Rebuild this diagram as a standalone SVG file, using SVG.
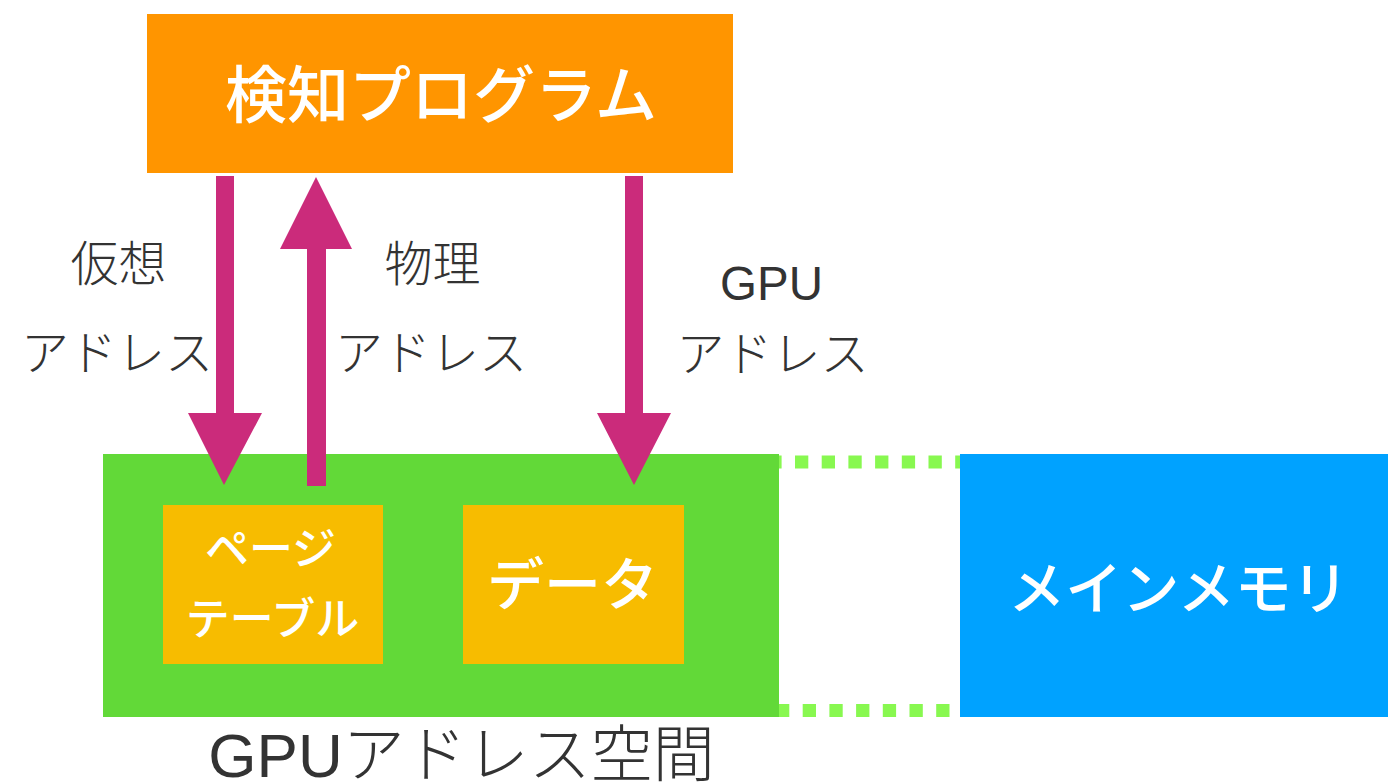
<svg xmlns="http://www.w3.org/2000/svg" width="1388" height="783" viewBox="0 0 1388 783">
  <style>
    .lbl { font-family: "Liberation Sans", "Noto Sans CJK JP", sans-serif; fill: #333333; font-weight: 300; text-anchor: middle; }
    .wt { font-family: "Noto Sans CJK JP", "Noto Sans", sans-serif; fill: #ffffff; font-weight: 500; text-anchor: middle; }
    .arrow { fill: #CB2B7B; }
    .dots { stroke: #88F850; stroke-width: 13; stroke-dasharray: 13.3 13.4; fill: none; }
  </style>
  <rect width="1388" height="783" fill="#ffffff"/>
  <g id="links">
    <line class="dots" x1="768.3" y1="462" x2="960" y2="462"/>
    <line class="dots" x1="776" y1="710.5" x2="960" y2="710.5"/>
  </g>
  <g id="gpu-space">
    <rect x="103" y="454" width="676" height="263" fill="#62D938"/>
    <text class="lbl" x="461.5" y="777" font-size="62">GPUアドレス空間</text>
  </g>
  <g id="main-memory">
    <rect x="960" y="454" width="428" height="263" fill="#00A2FF"/>
    <text class="wt" x="1178.5" y="609" font-size="57">メインメモリ</text>
  </g>
  <g id="page-table">
    <rect x="163" y="505" width="220" height="159" fill="#F7BC00"/>
    <text class="wt" x="270.5" y="565" font-size="44">ページ</text>
    <text class="wt" x="272.5" y="635" font-size="44">テーブル</text>
  </g>
  <g id="data">
    <rect x="463" y="505" width="221" height="159" fill="#F7BC00"/>
    <text class="wt" x="572.5" y="605" font-size="57">データ</text>
  </g>
  <g id="detector">
    <rect x="147" y="14" width="586" height="159" fill="#FF9500"/>
    <text class="wt" x="441" y="118" font-size="62">検知プログラム</text>
  </g>
  <g id="connectors">
    <polygon class="arrow" points="216,176 234,176 234,413 262,413 224,485 188,413 216,413"/>
    <polygon class="arrow" points="307,486 326,486 326,249 352,249 316,177 280,249 307,249"/>
    <polygon class="arrow" points="625,176 643,176 643,413 671,413 634,485 597,413 625,413"/>
  </g>
  <g id="labels">
    <text class="lbl" x="118.5" y="281" font-size="48">仮想</text>
    <text class="lbl" x="117" y="370" font-size="48">アドレス</text>
    <text class="lbl" x="432.5" y="281" font-size="48">物理</text>
    <text class="lbl" x="431" y="370" font-size="48">アドレス</text>
    <text class="lbl" x="771.5" y="300" font-size="47.5">GPU</text>
    <text class="lbl" x="772.5" y="371" font-size="48">アドレス</text>
  </g>
</svg>
